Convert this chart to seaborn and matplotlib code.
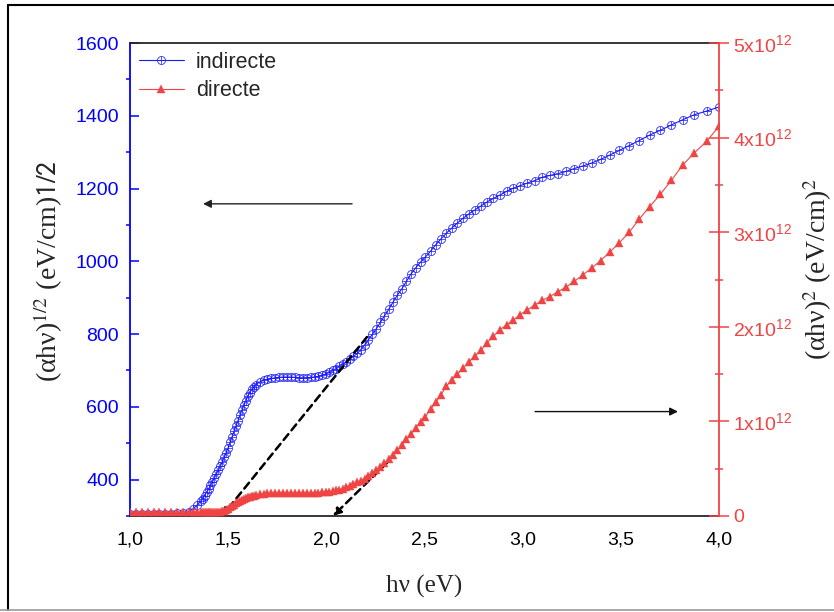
import numpy as np
import pandas as pd
import matplotlib
matplotlib.use("Agg")
import matplotlib.pyplot as plt
from matplotlib.lines import Line2D
import seaborn as sns

# photon energy (eV)
energy = [
    1.00, 1.03, 1.06, 1.09, 1.12, 1.15, 1.18, 1.21, 1.24, 1.27, 1.30,
    1.32, 1.34, 1.36, 1.37, 1.38, 1.39, 1.40, 1.41, 1.42, 1.43, 1.44,
    1.45, 1.46, 1.47, 1.48, 1.49, 1.50, 1.51, 1.52, 1.53, 1.54, 1.55,
    1.56, 1.57, 1.58, 1.59, 1.60, 1.61, 1.62, 1.63, 1.64, 1.66, 1.68,
    1.70, 1.72, 1.74, 1.76, 1.78, 1.80, 1.82, 1.84, 1.86, 1.88, 1.90,
    1.92, 1.94, 1.96, 1.98,
    2.000, 2.016, 2.033, 2.050, 2.067, 2.084, 2.102, 2.120, 2.138, 2.157,
    2.175, 2.195, 2.214, 2.234, 2.255, 2.275, 2.296, 2.318, 2.340, 2.362,
    2.385, 2.408, 2.431, 2.455, 2.480,
    2.505, 2.531, 2.557, 2.583, 2.611, 2.638, 2.667, 2.696, 2.725, 2.756,
    2.787, 2.818, 2.851, 2.884, 2.918, 2.952, 2.988, 3.024, 3.062, 3.100,
    3.139, 3.179, 3.221, 3.263, 3.307, 3.351, 3.397, 3.444, 3.493, 3.543,
    3.594, 3.647, 3.701, 3.758, 3.815, 3.875, 3.937, 4.000,
]

# (alpha h nu)^1/2 , left axis
indirecte = [
    306, 306, 306, 306, 306, 306, 306, 306, 307, 308, 312,
    319, 329, 341, 348, 356, 365, 374, 384, 394, 405, 416,
    426, 437, 449, 461, 474, 488, 503, 518, 533, 548, 562,
    577, 591, 604, 617, 629, 639, 648, 655, 661, 668, 673,
    676, 678, 680, 681, 682, 682, 682, 681, 680, 680, 680,
    681, 682, 684, 687,
    691, 695, 700, 705, 711, 717, 723, 731, 739, 747,
    757, 770, 784, 799, 815, 832, 850, 868, 888, 907,
    925, 945, 965, 982, 998,
    1012, 1028, 1045, 1061, 1077, 1091, 1105, 1118, 1130, 1141,
    1152, 1163, 1173, 1182, 1192, 1201, 1208, 1215, 1222, 1231,
    1236, 1241, 1247, 1255, 1262, 1270, 1280, 1292, 1305, 1318,
    1332, 1347, 1360, 1375, 1389, 1403, 1413, 1424,
]

# (alpha h nu)^2 in units of 1e12, right axis
directe_e12 = [
    0.04, 0.04, 0.04, 0.04, 0.04, 0.04, 0.04, 0.04, 0.04, 0.04, 0.04,
    0.04, 0.04, 0.04, 0.04, 0.04, 0.04, 0.04, 0.04, 0.04, 0.04, 0.04,
    0.04, 0.045, 0.05, 0.055, 0.065, 0.075, 0.09, 0.105, 0.12, 0.135, 0.145,
    0.16, 0.17, 0.18, 0.19, 0.20, 0.205, 0.21, 0.215, 0.22, 0.228, 0.234,
    0.238, 0.24, 0.241, 0.242, 0.242, 0.242, 0.242, 0.242, 0.242, 0.242, 0.242,
    0.243, 0.245, 0.247, 0.25,
    0.253, 0.257, 0.262, 0.27, 0.28, 0.29, 0.305, 0.32, 0.335, 0.355,
    0.375, 0.395, 0.42, 0.45, 0.485, 0.52, 0.56, 0.60, 0.645, 0.695,
    0.75, 0.81, 0.865, 0.935, 0.99,
    1.05, 1.13, 1.20, 1.28, 1.37, 1.44, 1.50, 1.56, 1.63, 1.69,
    1.75, 1.83, 1.90, 1.97, 2.02, 2.07, 2.13, 2.18, 2.23, 2.28,
    2.32, 2.37, 2.42, 2.48, 2.55, 2.62, 2.70, 2.79, 2.89, 3.00,
    3.14, 3.27, 3.40, 3.55, 3.71, 3.84, 3.96, 4.12,
]

x_ticks = [1.0, 1.5, 2.0, 2.5, 3.0, 3.5, 4.0]
x_labels = ["1,0", "1,5", "2,0", "2,5", "3,0", "3,5", "4,0"]
left_ticks = [400, 600, 800, 1000, 1200, 1400, 1600]
right_ticks = [0, 1e12, 2e12, 3e12, 4e12, 5e12]
right_labels = ["0"] + [r"%dx10$^{\mathrm{12}}$" % k for k in range(1, 6)]

df = pd.DataFrame({"E": energy, "ind": indirecte,
                   "dir": np.array(directe_e12) * 1e12})

sns.set_style("white")
plt.rcParams["font.family"] = ["Liberation Sans", "DejaVu Sans"]
plt.rcParams["mathtext.fontset"] = "custom"
plt.rcParams["mathtext.rm"] = "Liberation Sans"
plt.rcParams["mathtext.it"] = "Liberation Sans:italic"

BLUE = "#1a1aff"
RED = "#f04444"

fig = plt.figure(figsize=(8.34, 6.12), dpi=100)
ax = fig.add_axes([130 / 834, 1 - 516 / 612, 589 / 834, 473 / 612])
ax2 = ax.twinx()

sns.lineplot(data=df, x="E", y="ind", ax=ax, color=BLUE, lw=0.8,
             marker=r"$\oplus$", markersize=6, mec=BLUE, mfc=BLUE, mew=0.2,
             label="indirecte", estimator=None, sort=False)
sns.lineplot(data=df, x="E", y="dir", ax=ax2, color=RED, lw=0.8,
             marker="^", markersize=6, mec=RED, mfc=RED, mew=0.3,
             label="directe", estimator=None, sort=False)

for a in (ax, ax2):
    if a.get_legend() is not None:
        a.get_legend().remove()

ax.set_xlim(1.0, 4.0)
ax.set_ylim(300, 1600)
ax2.set_ylim(0, 5e12)

ax.set_xticks(x_ticks)
ax.set_xticklabels(x_labels)
ax.set_xticks(np.arange(1.25, 4.0, 0.5), minor=True)
ax.set_yticks(left_ticks)
ax.set_yticks(np.arange(300, 1600, 200), minor=True)
ax2.set_yticks(right_ticks)
ax2.set_yticklabels(right_labels)
ax2.set_yticks(np.arange(0.5e12, 5e12, 1e12), minor=True)

ax.tick_params(axis="x", which="major", direction="out", length=7,
               width=1.1, colors="k", labelsize=14, pad=4)
ax.tick_params(axis="x", which="minor", direction="out", length=3.5,
               width=1.1, color="k")
ax.tick_params(axis="y", which="major", direction="in", length=6.5,
               width=1.1, color="blue", labelcolor="blue", labelsize=14, pad=8)
ax.tick_params(axis="y", which="minor", direction="out", length=3,
               width=1.1, color="blue")
ax2.tick_params(axis="y", which="major", direction="inout", length=14,
                width=1.1, color=RED, labelcolor=RED, labelsize=14, pad=3)
ax2.tick_params(axis="y", which="minor", direction="inout", length=6,
                width=1.1, color=RED)

for s in ax.spines.values():
    s.set_linewidth(1.3)
ax.spines["left"].set_color("blue")
ax.spines["right"].set_visible(False)
for k in ("left", "top", "bottom"):
    ax2.spines[k].set_visible(False)
ax2.spines["right"].set_color(RED)
ax2.spines["right"].set_linewidth(1.3)

serif = ["Liberation Serif", "DejaVu Serif"]
ax.set_xlabel("hν (eV)", fontsize=18, family=serif)
ax.xaxis.set_label_coords(0.5, -0.125)

ylab = ax.set_ylabel(r"(αhν)$^{1/2}$ (eV/cm)$\mathsf{1/2}$", fontsize=20,
                     family=serif)
ylab.set_math_fontfamily("stix")
ylab.set_ha("left")
ax.yaxis.set_label_coords(-0.110, 0.283)

ylab2 = ax2.set_ylabel(r"(αhν)$^2$ (eV/cm)$^2$", fontsize=20, family=serif,
                       rotation=90)
ylab2.set_math_fontfamily("stix")
ylab2.set_ha("left")
ax2.yaxis.set_label_coords(1.140, 0.330)

# guide arrows
ax.annotate("", xy=(1.372, 1158), xytext=(2.131, 1158),
            arrowprops=dict(arrowstyle="-|>", color="#222222", lw=1.0,
                            mutation_scale=12, shrinkA=0, shrinkB=0))
ax.annotate("", xy=(3.791, 587), xytext=(3.063, 587),
            arrowprops=dict(arrowstyle="-|>", color="#111111", lw=1.0,
                            mutation_scale=12, shrinkA=0, shrinkB=0))
ax.annotate("", xy=(1.469, 300), xytext=(2.207, 792),
            arrowprops=dict(arrowstyle="-|>", color="k", lw=1.8, ls=(0, (3, 2)),
                            mutation_scale=11, shrinkA=0, shrinkB=0))
ax.annotate("", xy=(2.034, 300), xytext=(2.309, 446),
            arrowprops=dict(arrowstyle="-|>", color="k", lw=1.8, ls=(0, (3, 2)),
                            mutation_scale=11, shrinkA=0, shrinkB=0))

handles = ax.get_lines()[:1] + ax2.get_lines()[:1]
leg = ax2.legend(handles, ["indirecte", "directe"], loc="upper left",
                 frameon=False, fontsize=15.5, handlelength=2.1,
                 handletextpad=0.55, labelspacing=0.35, borderaxespad=0.0)

# outer frame
fig.add_artist(Line2D([8 / 834, 1], [1 - 5 / 612] * 2, color="k", lw=1.5))
fig.add_artist(Line2D([8 / 834] * 2, [0.004, 1 - 5 / 612], color="k", lw=1.5))
fig.add_artist(Line2D([0, 1], [0.004, 0.004], color="#999999", lw=1.2))

fig.savefig("out.png", dpi=100)
